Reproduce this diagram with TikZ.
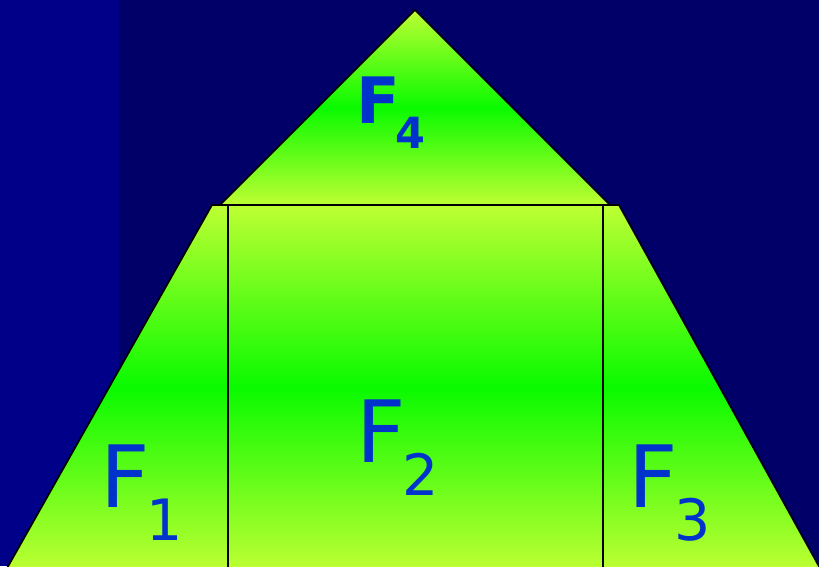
\documentclass[tikz,border=0pt]{standalone}
\usepackage{fontspec}
\setmainfont{DejaVu Sans}
\definecolor{bgleft}{RGB}{0,0,136}
\definecolor{bgmain}{RGB}{0,0,104}
\definecolor{yg}{RGB}{190,255,50}
\definecolor{gr}{RGB}{10,250,0}
\definecolor{txt}{RGB}{0,51,204}
\tikzset{
  face/.style={draw=black,line width=1.7pt,top color=yg,bottom color=yg,middle color=gr},
  divider/.style={draw=black,line width=1.7pt},
  lbl/.style={inner sep=0pt,outer sep=0pt,anchor=base west,text=txt},
}
\newcommand{\bigF}[1]{{\fontsize{86}{86}\selectfont F\hspace{-3pt}\raisebox{-33pt}{\fontsize{57}{57}\selectfont #1}}}
\newcommand{\boldF}[1]{{\bfseries\fontsize{64}{64}\selectfont F\hspace{-4pt}\raisebox{-25pt}{\fontsize{43}{43}\selectfont #1}}}
\begin{document}
\begin{tikzpicture}[x=1pt,y=-1pt]
\useasboundingbox (0,0) rectangle (819,566);
\clip (0,0) rectangle (819,566);
\fill[bgmain] (0,0) rectangle (819,566);
\fill[bgleft] (0,0) rectangle (119,566);
% trapezoid
\path[face] (212,205) -- (619,205) -- (821,570) -- (6,570) -- cycle;
% triangle
\path[face] (415,10) -- (610,205) -- (220,205) -- cycle;
% dividers
\coordinate (d1t) at (228,205); \coordinate (d1b) at (228,567);
\coordinate (d2t) at (603,205); \coordinate (d2b) at (603,567);
\draw[divider] (d1t) -- (d1b);
\draw[divider] (d2t) -- (d2b);
% labels
\node[lbl] (f1) at (100,507) {\bigF{1}};
\node[lbl] (f2) at (356,462) {\bigF{2}};
\node[lbl] (f3) at (628,507) {\bigF{3}};
\node[lbl] (f4) at (356,123) {\boldF{4}};
\end{tikzpicture}
\end{document}
